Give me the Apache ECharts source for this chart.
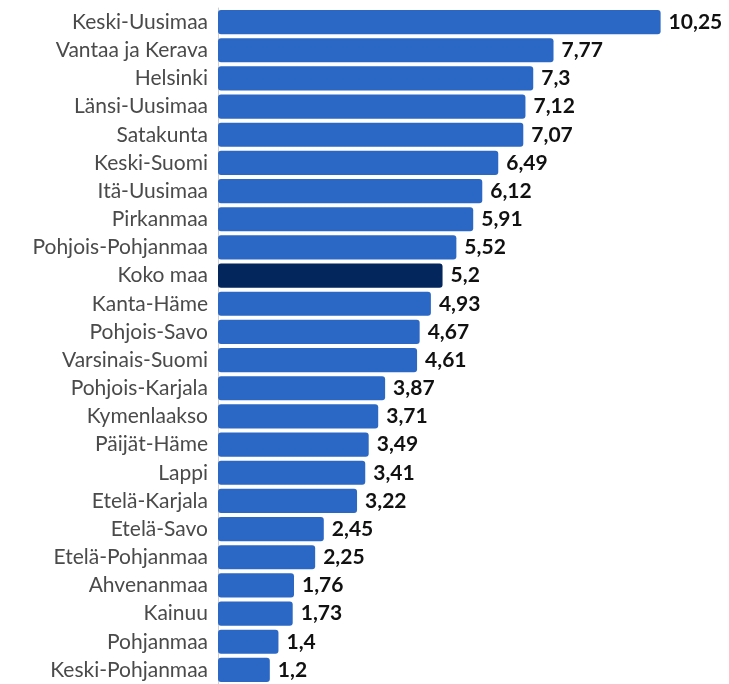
<!DOCTYPE html>
<html>
<head>
<meta charset="utf-8">
<script src="https://cdn.jsdelivr.net/npm/echarts@6/dist/echarts.min.js"></script>
<style>
  html, body { margin: 0; padding: 0; background: #fff; }
  #chart { width: 729px; height: 684px; }
</style>
</head>
<body>
<div id="chart"></div>
<script>
// alueet ylhäältä alas
const regions = [
  'Keski-Uusimaa', 'Vantaa ja Kerava', 'Helsinki', 'Länsi-Uusimaa', 'Satakunta',
  'Keski-Suomi', 'Itä-Uusimaa', 'Pirkanmaa', 'Pohjois-Pohjanmaa', 'Koko maa',
  'Kanta-Häme', 'Pohjois-Savo', 'Varsinais-Suomi', 'Pohjois-Karjala', 'Kymenlaakso',
  'Päijät-Häme', 'Lappi', 'Etelä-Karjala', 'Etelä-Savo', 'Etelä-Pohjanmaa',
  'Ahvenanmaa', 'Kainuu', 'Pohjanmaa', 'Keski-Pohjanmaa'
];
const values = [
  10.25, 7.77, 7.3, 7.12, 7.07,
  6.49, 6.12, 5.91, 5.52, 5.2,
  4.93, 4.67, 4.61, 3.87, 3.71,
  3.49, 3.41, 3.22, 2.45, 2.25,
  1.76, 1.73, 1.4, 1.2
];
const highlight = 'Koko maa';

let chart = echarts.init(document.getElementById('chart'));

let option = {
  animation: false,
  grid: { left: 218, right: 36, top: 8, bottom: 0 },
  xAxis: {
    type: 'value',
    min: 0,
    max: 11,
    show: false
  },
  yAxis: {
    type: 'category',
    data: regions,
    inverse: true,
    axisTick: { show: false },
    axisLine: { show: true, lineStyle: { color: '#cfcfcf', width: 1 } },
    axisLabel: {
      color: '#4a4a4a',
      fontFamily: 'Lato',
      fontSize: 21,
      margin: 10
    }
  },
  series: [{
    type: 'bar',
    barCategoryGap: '14%',
    data: values.map((v, i) => ({
      value: v,
      itemStyle: { color: regions[i] === highlight ? '#03265c' : '#2b68c6' }
    })),
    itemStyle: { borderRadius: 3 },
    label: {
      show: true,
      position: 'right',
      distance: 8,
      color: '#111',
      fontFamily: 'Lato',
      fontWeight: 'bold',
      fontSize: 21,
      formatter: p => String(p.value).replace('.', ',')
    }
  }]
};

chart.setOption(option);
</script>
</body>
</html>
